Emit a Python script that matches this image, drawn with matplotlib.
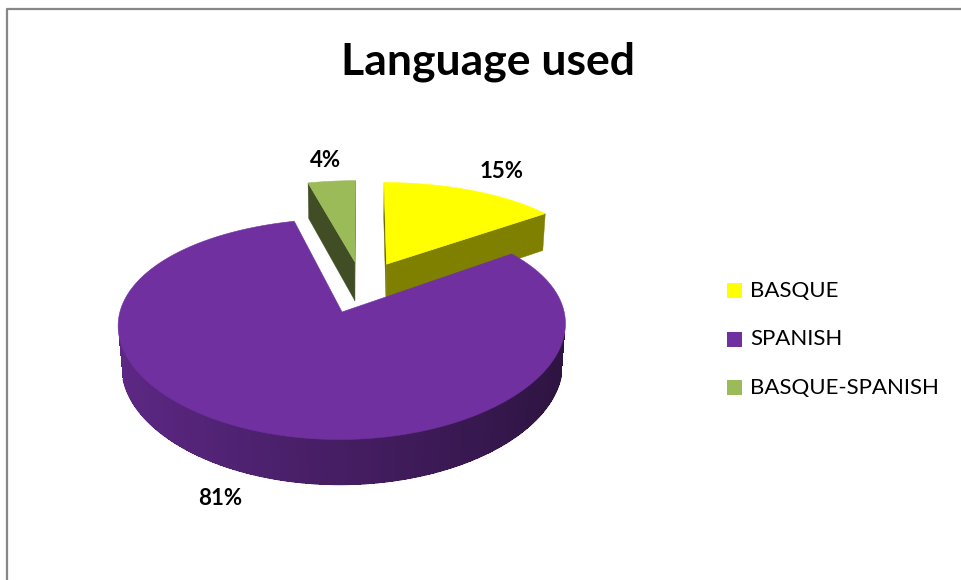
import numpy as np
import matplotlib.pyplot as plt
from matplotlib.patches import Polygon
from matplotlib.collections import LineCollection

plt.rcParams['font.family'] = ['Lato', 'DejaVu Sans']

# data
labels = ['BASQUE', 'SPANISH', 'BASQUE-SPANISH']
values = [15, 81, 4]
top_colors = ['#FFFF00', '#7030A0', '#9BBB59']
title = 'Language used'

# 3d look
ELEV = np.radians(30.0)   # camera elevation
DIST = 5.8                # camera distance (pie radius = 1)
HPERSP = 0.75             # how much of the perspective applies horizontally
THICK = 0.235             # pie thickness
EXPLODE = 0.26
SX, SY = 216.0, 200.0     # pixels per unit
CX, CY = 361.6, 286.6     # pixel position of the pie origin
LABEL_R = [1.4, 1.35, 1.3]
LABEL_Z = [-0.04, -0.08, 0.0]


def proj(X, Y, Z):
    depth = DIST + Y * np.cos(ELEV) - Z * np.sin(ELEV)
    f = DIST / depth
    sx = X * f ** HPERSP
    sy = (Y * np.sin(ELEV) + Z * np.cos(ELEV)) * f
    return CX + SX * sx, CY - SY * sy


def depth_of(X, Y, Z):
    return DIST + Y * np.cos(ELEV) - Z * np.sin(ELEV)


CAM = np.array([0.0, -DIST * np.cos(ELEV), DIST * np.sin(ELEV)])


def facing(point, normal):
    return np.dot(CAM - np.asarray(point), normal) > 0


def shade(color, k):
    rgb = np.array(plt.matplotlib.colors.to_rgb(color))
    return tuple(np.clip(rgb * k, 0, 1))


fig = plt.figure(figsize=(9.61, 5.8), dpi=100)
ax = fig.add_axes([0, 0, 1, 1])
ax.set_xlim(0, 961)
ax.set_ylim(580, 0)
ax.axis('off')

# chart border (only top and left are inside the picture)
ax.plot([7, 7, 961], [580, 9, 9], color='#878787', lw=1.6, solid_capstyle='butt')

fracs = np.array(values) / np.sum(values)
start = 90.0
sides = []   # (depth, kind, geometry, color)
tops = []
label_pos = []
for i, f in enumerate(fracs):
    t1 = start
    t2 = start - 360 * f
    start = t2
    mid = np.radians((t1 + t2) / 2)
    x0 = EXPLODE * np.cos(mid)
    y0 = EXPLODE * np.sin(mid)
    th = np.radians(np.linspace(t1, t2, max(int(abs(t1 - t2)) * 2, 4)))
    step = th[1] - th[0]
    # top face
    px, py = proj(np.r_[x0, x0 + np.cos(th)], np.r_[y0, y0 + np.sin(th)], 0.0)
    tops.append((np.column_stack([px, py]), top_colors[i]))
    # outer curved side, thin overlapping strips for the shading
    for a, b in zip(th[:-1], th[1:]):
        m = (a + b) / 2
        n = np.array([np.cos(m), np.sin(m), 0.0])
        pt = np.array([x0 + np.cos(m), y0 + np.sin(m), -THICK / 2])
        if not facing(pt, n):
            continue
        b2 = b + 0.6 * step if b != th[-1] else b
        xs = x0 + np.cos([a, b2, b2, a])
        ys = y0 + np.sin([a, b2, b2, a])
        zs = np.array([0, 0, -THICK, -THICK])
        qx, qy = proj(xs, ys, zs)
        k = 0.62 - 0.22 * np.cos(m)
        c = shade(top_colors[i], k)
        sides.append((depth_of(*pt), 'strip', np.column_stack([qx, qy]), c))
        # bottom rim drawn as a smooth line
        ex, ey = proj(x0 + np.cos([a, b]), y0 + np.sin([a, b]), -THICK)
        sides.append((depth_of(*pt) - 1e-3, 'rim', np.column_stack([ex, ey]), c))
    # the two flat cut faces
    for ang, sgn in ((t1, 1), (t2, -1)):
        a = np.radians(ang)
        n = np.array([np.cos(a + sgn * np.pi / 2), np.sin(a + sgn * np.pi / 2), 0.0])
        pt = np.array([x0 + 0.5 * np.cos(a), y0 + 0.5 * np.sin(a), -THICK / 2])
        if not facing(pt, n):
            continue
        xs = np.array([x0, x0 + np.cos(a), x0 + np.cos(a), x0])
        ys = np.array([y0, y0 + np.sin(a), y0 + np.sin(a), y0])
        zs = np.array([0, 0, -THICK, -THICK])
        qx, qy = proj(xs, ys, zs)
        k = 0.465 + 0.055 * n[0]
        sides.append((depth_of(*pt), 'face', np.column_stack([qx, qy]), shade(top_colors[i], k)))
    r = LABEL_R[i]
    label_pos.append(proj(x0 + r * np.cos(mid), y0 + r * np.sin(mid), LABEL_Z[i]))

rim_segs, rim_cols = [], []
for d, kind, xy, c in sorted(sides, key=lambda s: -s[0]):
    if kind == 'strip':
        ax.add_patch(Polygon(xy, closed=True, facecolor=c, edgecolor='none',
                             lw=0, antialiased=False))
    elif kind == 'rim':
        rim_segs.append(xy)
        rim_cols.append(c)
    else:
        ax.add_patch(Polygon(xy, closed=True, facecolor=c, edgecolor=c, lw=0.3))
ax.add_collection(LineCollection(rim_segs, colors=rim_cols, linewidths=0.9,
                                 capstyle='round'))
for xy, c in tops:
    ax.add_patch(Polygon(xy, closed=True, facecolor=c, edgecolor=c, lw=0.4))

for (lx, ly), v in zip(label_pos, values):
    ax.text(lx, ly, '%d%%' % v, ha='center', va='center', fontsize=16,
            fontweight='bold', color='black')

ax.text(488, 62, title, ha='center', va='center', fontsize=32, fontweight='bold')

# legend
for i, lab in enumerate(labels):
    yy = 290.5 + 48.7 * i
    ax.add_patch(plt.Rectangle((727, yy - 7.5), 15, 15, facecolor=top_colors[i], edgecolor='none'))
    ax.text(750, yy, lab, ha='left', va='center', fontsize=16)

fig.savefig('out.png', dpi=100)
